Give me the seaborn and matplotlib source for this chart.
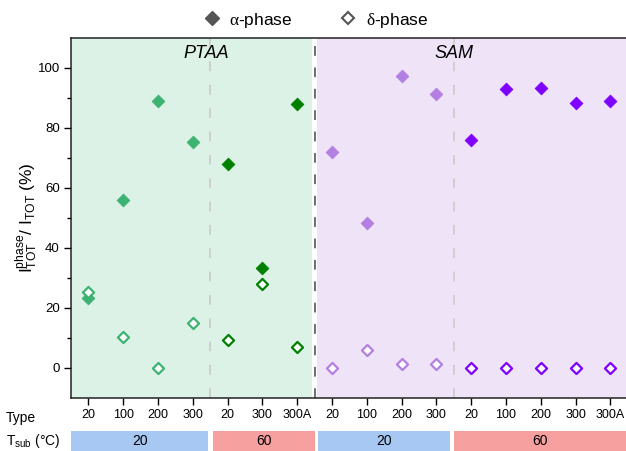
import numpy as np
import pandas as pd
import matplotlib
matplotlib.use("Agg")
import matplotlib.pyplot as plt
from matplotlib.lines import Line2D
from matplotlib.patches import Rectangle
from matplotlib.transforms import blended_transform_factory
import seaborn as sns

# ---- data -------------------------------------------------------------
type_labels = ["20", "100", "200", "300",
               "20", "300", "300A",
               "20", "100", "200", "300",
               "20", "100", "200", "300", "300A"]
groups = (["PTAA-20"] * 4 + ["PTAA-60"] * 3 +
          ["SAM-20"] * 4 + ["SAM-60"] * 5)
alpha_phase = [23.5, 56.0, 89.0, 75.5,
               68.0, 33.5, 88.0,
               72.0, 48.5, 97.5, 91.5,
               76.0, 93.0, 93.5, 88.5, 89.0]
delta_phase = [25.5, 10.5, 0.0, 15.0,
               9.5, 28.0, 7.0,
               0.0, 6.0, 1.5, 1.5,
               0.0, 0.0, 0.0, 0.0, 0.0]
tsub_labels = ["20", "60", "20", "60"]
substrates = ["PTAA", "SAM"]

palette = {"PTAA-20": "#3cb371", "PTAA-60": "#008000",
           "SAM-20": "#b47fe2", "SAM-60": "#7f00ff"}

df = pd.DataFrame({
    "pos": np.arange(len(type_labels)),
    "group": groups,
    "alpha": alpha_phase,
    "delta": delta_phase,
})

# ---- style ------------------------------------------------------------
sns.set_style("ticks")
plt.rcParams["font.family"] = ["Liberation Sans", "DejaVu Sans"]
plt.rcParams["mathtext.fontset"] = "custom"
plt.rcParams["mathtext.rm"] = "Liberation Sans"
plt.rcParams["mathtext.it"] = "Liberation Serif"
plt.rcParams["mathtext.bf"] = "Liberation Sans:bold"
for key in ("text.color", "axes.labelcolor", "xtick.color", "ytick.color"):
    plt.rcParams[key] = "black"

fig = plt.figure(figsize=(6.26, 4.51), dpi=100)
ax = fig.add_axes([71 / 626, 1 - 398 / 451, 1 - 71 / 626, (398 - 38) / 451])

xmin, xmax = -0.5, 15.45
ax.set_xlim(xmin, xmax)
ax.set_ylim(-10, 110)

# substrate backgrounds
ax.axvspan(xmin, 6.43, color="#ddf2e7", zorder=0, lw=0)
ax.axvspan(6.58, xmax, color="#efe3f7", zorder=0, lw=0)

# separators
for xv in (3.5, 10.5):
    ax.axvline(xv, color="#cfcfcf", lw=1.4, ls=(0, (5, 7)), zorder=1)
ax.axvline(6.5, color="#6e6e6e", lw=1.4, ls=(0, (5, 6)), zorder=1)

# points
for g, sub in df.groupby("group", sort=False):
    c = palette[g]
    sns.scatterplot(data=sub, x="pos", y="alpha", ax=ax, marker="D", s=42,
                    color=c, edgecolor=c, linewidth=0.6, zorder=3, legend=False)
    sns.scatterplot(data=sub, x="pos", y="delta", ax=ax, marker="D", s=32,
                    color="white", edgecolor=c, linewidth=1.6, zorder=3,
                    legend=False)

# substrate names
ax.text(3.4, 105, substrates[0], ha="center", va="center",
        fontsize=13, style="italic")
ax.text(10.5, 105, substrates[1], ha="center", va="center",
        fontsize=13, style="italic")

# axes formatting
ax.set_xticks(df["pos"])
ax.set_xticklabels(type_labels, fontsize=9)
ax.set_yticks([0, 20, 40, 60, 80, 100])
ax.set_yticks([10, 30, 50, 70, 90], minor=True)
ax.tick_params(axis="y", labelsize=9.5, length=5, width=1, direction="out",
               color="black", pad=3)
ax.tick_params(axis="y", which="minor", length=3, width=1, color="black")
ax.tick_params(axis="x", length=5, width=1, direction="out", color="black", pad=3)
ax.set_xlabel("")
ax.set_ylabel(r"$\mathrm{I}^{\mathrm{phase}}_{\mathrm{TOT}}$/ $\mathrm{I}_{\mathrm{TOT}}$ (%)",
              fontsize=12.5, labelpad=-1.5)
for side in ("left", "top", "bottom"):
    ax.spines[side].set_color("#222222")
    ax.spines[side].set_linewidth(1.1)
ax.spines["right"].set_visible(False)

# legend
handles = [
    Line2D([], [], marker="D", ls="none", markersize=7, color="#555555"),
    Line2D([], [], marker="D", ls="none", markersize=6.5, markerfacecolor="white",
           markeredgecolor="#555555", markeredgewidth=1.5),
]
fig.legend(handles, [r"$\alpha$-phase", r"$\delta$-phase"], ncol=2,
           loc="center", bbox_to_anchor=(315 / 626, 1 - 20 / 451), frameon=False,
           fontsize=12.5, handletextpad=0.4, columnspacing=2.6, handlelength=1.2)

# substrate-temperature row
trans = blended_transform_factory(ax.transData, fig.transFigure)
spans = [(xmin, 3.45), (3.58, 6.51), (6.61, 10.39), (10.52, xmax)]
box_colors = ["#a6c8f2", "#f6a0a0", "#a6c8f2", "#f6a0a0"]
y0, h = 0.0, 1 - 431 / 451
for (a, b), col, lab in zip(spans, box_colors, tsub_labels):
    ax.add_patch(Rectangle((a, y0), b - a, h, transform=trans, color=col,
                           clip_on=False, lw=0))
    ax.text((a + b) / 2, 1 - 441 / 451, lab, transform=trans, ha="center",
            va="center", fontsize=10)

fig.text(6 / 626, 1 - 418 / 451, "Type", ha="left", va="center", fontsize=10)
fig.text(6 / 626, 1 - 441 / 451, r"T$_{\mathrm{sub}}$ (°C)", ha="left",
         va="center", fontsize=10)

fig.savefig("out.png", dpi=100)
